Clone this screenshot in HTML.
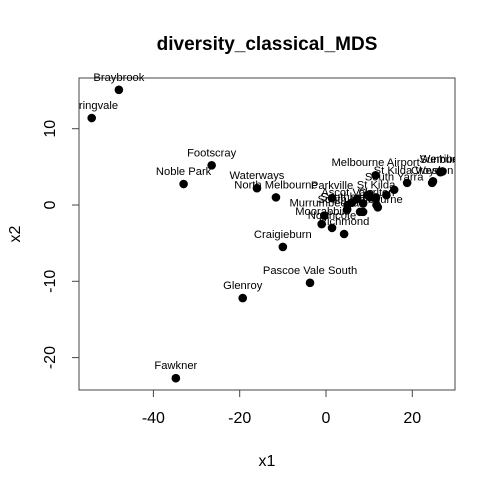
<!DOCTYPE html>
<html><head><meta charset="utf-8"><style>
body{margin:0;background:#fff}
svg{display:block;font-family:"Liberation Sans",Arial,sans-serif}
</style></head><body>
<svg id="chart" width="496" height="488">
<text x="267" y="50" text-anchor="middle" font-size="19" font-weight="bold">diversity_classical_MDS</text>
<text x="267" y="466" text-anchor="middle" font-size="16">x1</text>
<text transform="translate(20,234) rotate(-90)" text-anchor="middle" font-size="16">x2</text>
<g id="clip-wrap"></g>
<rect x="79" y="78" width="376" height="312" fill="none" stroke="#444" stroke-width="1"/>
<g id="axes"></g>
<g id="marks"></g>
</svg>
<script>
const names=["Braybrook","Springvale","Footscray","Noble Park","Waterways","North Melbourne","Craigieburn","Pascoe Vale South","Glenroy","Fawkner","Melbourne Airport","Sunbury","Werribee","Croydon","Broadmeadows","St Kilda West","St Kilda","South Yarra","Parkville","St Kilda East","Southbank","South Melbourne","Ascot Vale","Murrumbeena","Moorabbin","Northcote","Richmond","Carlton","Docklands","Melbourne","Brunswick","Hawthorn","Kew","Fitzroy","Elwood","Prahran","Toorak"];
const xs=[-48.0,-54.3,-26.5,-33.0,-16.0,-11.6,-10.0,-3.7,-19.3,-34.8,11.5,26.5,27.0,24.6,24.8,18.8,11.6,15.8,1.4,8.6,4.9,7.9,5.0,-0.4,-1.0,1.4,4.2,11.7,10.3,9.6,12.0,11.5,14.0,7.2,8.6,10.0,6.0];
const ys=[15.1,11.4,5.2,2.75,2.2,1.0,-5.5,-10.2,-12.2,-22.7,3.9,4.3,4.4,2.9,3.1,2.9,1.0,2.0,0.9,-0.9,-0.6,-0.9,0.0,-1.4,-2.5,-3.0,-3.8,0.0,1.0,1.3,-0.3,0.9,1.3,0.8,0.2,1.3,0.3];
const labeled=[0,1,2,3,4,5,6,7,8,9,10,11,12,13,15,16,17,18,20,21,22,23,24,25,26,27];
const xTicks=[-40,-20,0,20];
const yTicks=[-20,-10,0,10];
const X=v=>326+v*4.315, Y=v=>205-v*7.63;
const NS="http://www.w3.org/2000/svg";
const ax=document.getElementById('axes'), mk=document.getElementById('marks');
function el(t,a,p){const e=document.createElementNS(NS,t);for(const k in a)e.setAttribute(k,a[k]);p.appendChild(e);return e;}
xTicks.forEach(t=>{
  const l=el('line',{x1:X(t),x2:X(t),y1:390,y2:397,stroke:'#444'},ax);
  
  
  const tx=el('text',{x:X(t),y:423,'text-anchor':'middle','font-size':16},ax);tx.textContent=t;
  
  
});
yTicks.forEach(t=>{
  const l=el('line',{x1:72,x2:79,y1:Y(t),y2:Y(t),stroke:'#444'},ax);
  
  
  const tx=el('text',{'text-anchor':'middle','font-size':16,transform:`translate(55,${Y(t)}) rotate(-90)`},ax);tx.textContent=t;
  
  
});
const clip=el('clipPath',{id:'cp'},document.getElementById('clip-wrap'));
el('rect',{x:79,y:70,width:376,height:320},clip);
const g=el('g',{'clip-path':'url(#cp)'},mk);
xs.forEach((v,i)=>{
  const c=el('circle',{cx:X(v),cy:Y(ys[i]),r:4.3,fill:'#000'},g);
  
  
});
labeled.forEach(i=>{
  const t=el('text',{x:X(xs[i]),y:Y(ys[i])-9,'text-anchor':'middle','font-size':11.2,fill:'#000'},g);
  t.textContent=names[i];
  
  
});
</script>
</body></html>
